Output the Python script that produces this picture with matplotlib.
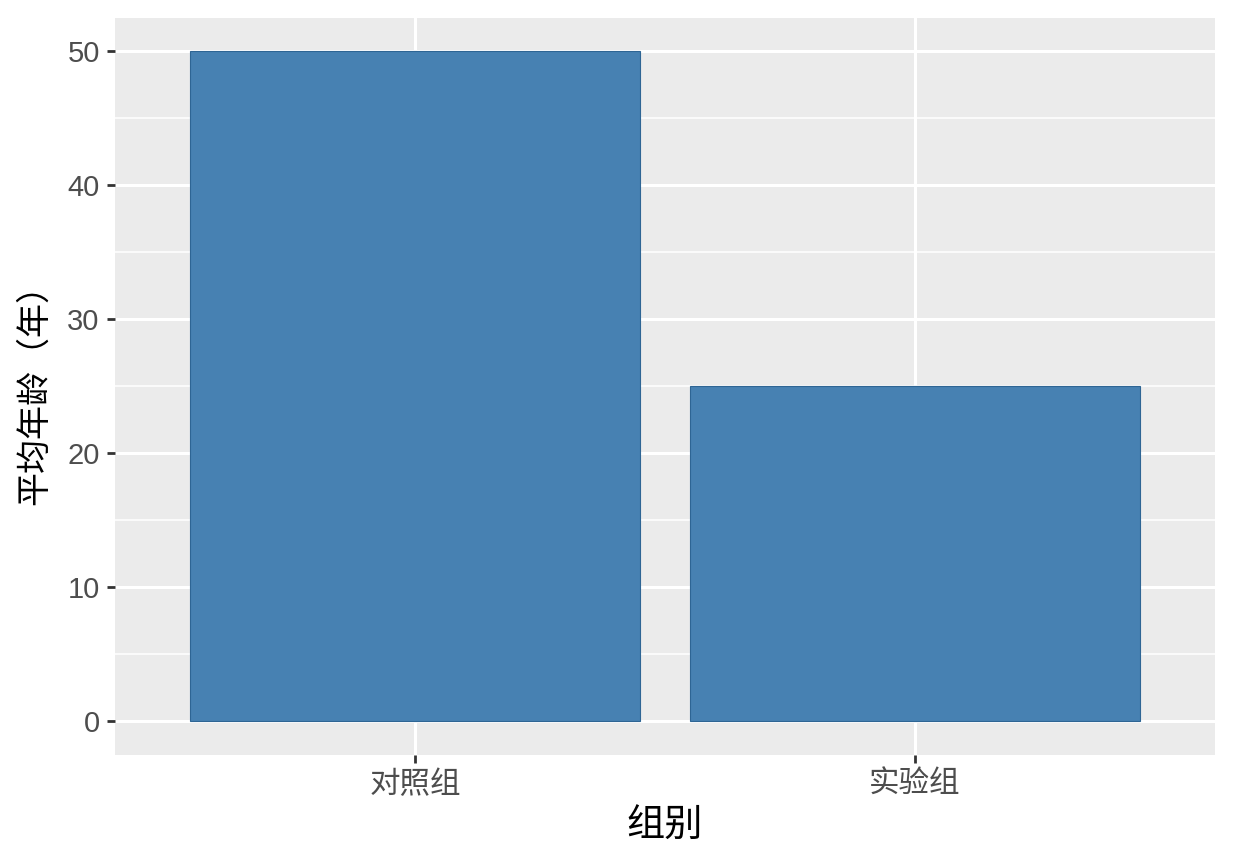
import numpy as np
import matplotlib
matplotlib.use('Agg')
import matplotlib.pyplot as plt
from matplotlib.ticker import MultipleLocator

plt.rcParams['font.family'] = ['Liberation Sans', 'Noto Sans CJK SC', 'DejaVu Sans']

# data
groups = ['对照组', '实验组']
mean_age = [50, 25]

fig = plt.figure(figsize=(12.34, 8.64), dpi=100)
ax = fig.add_axes([0.0932, 0.1262, 0.8914, 0.853])

x = np.arange(1, len(groups) + 1)
ax.bar(x, mean_age, width=0.9, color='#4781B2', edgecolor='#2E6594',
       linewidth=0.8, zorder=3)

ax.set_facecolor('#EBEBEB')
ax.set_xlim(0.4, 2.6)
ax.set_ylim(-2.5, 52.5)
ax.set_xticks(x)
ax.set_xticklabels(groups)
ax.yaxis.set_major_locator(MultipleLocator(10))
ax.yaxis.set_minor_locator(MultipleLocator(5))

ax.grid(which='major', color='white', linewidth=2.2, zorder=1)
ax.grid(which='minor', axis='y', color='white', linewidth=1.1, zorder=1)
ax.set_axisbelow(True)

for s in ax.spines.values():
    s.set_visible(False)

ax.tick_params(axis='both', which='major', length=6, width=2, color='#333333',
               labelsize=21, labelcolor='#4D4D4D', pad=5)
ax.tick_params(axis='x', which='major', labelsize=22)
ax.tick_params(axis='y', which='minor', length=0)

ax.set_xlabel('组别', fontsize=27.5, color='black', labelpad=6)
ax.set_ylabel('平均年龄（年）', fontsize=24.5, color='black', labelpad=12)

fig.savefig('out.png', dpi=100, facecolor='white')
